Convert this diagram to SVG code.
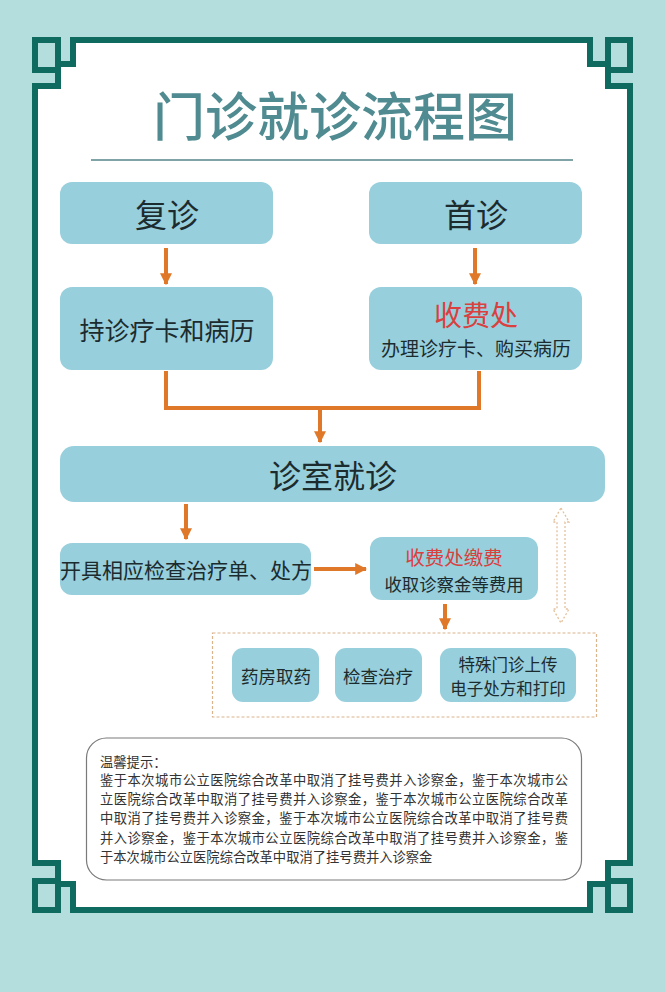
<svg xmlns="http://www.w3.org/2000/svg" width="665" height="992" viewBox="0 0 665 992">
<defs>
<style>
.bg{fill:#b4dedd}
.frame{fill:#ffffff;stroke:#0f6b5f;stroke-width:6;stroke-linejoin:miter}
.sq{fill:#b4dedd;stroke:#0f6b5f;stroke-width:6}
.node{fill:#97cfdc}
.t{font-family:"Noto Sans CJK SC","Noto Sans",sans-serif;fill:#1c2b2e;text-anchor:middle;dominant-baseline:central}
.red{fill:#d9403e}
.con{fill:none;stroke:#e0782a;stroke-width:4}
.note{font-family:"Noto Sans CJK SC","Noto Sans",sans-serif;fill:#333333;font-size:13.3px;dominant-baseline:central}
</style>
<marker id="ah" viewBox="0 0 10 10" refX="9" refY="5" markerWidth="3" markerHeight="3" orient="auto" markerUnits="strokeWidth">
<path d="M0,0 L10,5 L0,10 Z" fill="#e0782a"/>
</marker>
</defs>
<rect class="bg" x="0" y="0" width="665" height="992"/>
<g id="frame">
<path class="frame" d="M35,86 L58,86 L58,64 L73,64 L73,40 L590,40 L590,64 L608,64 L608,86 L630,86 L630,863 L608,863 L608,884 L590,884 L590,910 L73,910 L73,884 L58,884 L58,863 L35,863 Z"/>
<rect class="sq" x="35" y="40" width="23" height="30"/>
<rect class="sq" x="608" y="40" width="22" height="30"/>
<rect class="sq" x="35" y="881" width="23" height="29"/>
<rect class="sq" x="608" y="881" width="22" height="29"/>
</g>
<g id="title">
<text class="t" x="335" y="113" font-size="52" font-weight="500" style="fill:#4f8b90">门诊就诊流程图</text>
<line x1="91" y1="160" x2="573" y2="160" stroke="#7fa3a6" stroke-width="2"/>
</g>
<g id="connectors">
<line class="con" x1="166" y1="248" x2="166" y2="284" marker-end="url(#ah)"/>
<line class="con" x1="475" y1="248" x2="475" y2="284" marker-end="url(#ah)"/>
<path class="con" d="M166,371 L166,408 L479,408 L479,371"/>
<line class="con" x1="320" y1="408" x2="320" y2="442" marker-end="url(#ah)"/>
<line class="con" x1="186" y1="504" x2="186" y2="539" marker-end="url(#ah)"/>
<line class="con" x1="314" y1="569" x2="366" y2="569" marker-end="url(#ah)"/>
<line class="con" x1="445" y1="604" x2="445" y2="629" marker-end="url(#ah)"/>
<path d="M561,508 L569,522 L565,522 L565,609 L569,609 L561,623 L553,609 L557,609 L557,522 L553,522 Z" fill="none" stroke="#e3c09c" stroke-width="1.3" stroke-dasharray="2,2"/>
</g>
<g id="n-fuzhen">
<rect class="node" x="60" y="182" width="213" height="62" rx="12"/>
<text class="t" x="167" y="213" font-size="32">复诊</text>
</g>
<g id="n-shouzhen">
<rect class="node" x="369" y="182" width="213" height="62" rx="12"/>
<text class="t" x="476" y="213" font-size="32">首诊</text>
</g>
<g id="n-card">
<rect class="node" x="60" y="287" width="213" height="83" rx="12"/>
<text class="t" x="167" y="329" font-size="25">持诊疗卡和病历</text>
</g>
<g id="n-cashier">
<rect class="node" x="369" y="287" width="213" height="83" rx="12"/>
<text class="t red" x="476" y="314" font-size="28">收费处</text>
<text class="t" x="476" y="347" font-size="19">办理诊疗卡、购买病历</text>
</g>
<g id="n-clinic">
<rect class="node" x="60" y="446" width="545" height="56" rx="14"/>
<text class="t" x="333" y="474" font-size="32">诊室就诊</text>
</g>
<g id="n-prescribe">
<rect class="node" x="60" y="543" width="251" height="52" rx="12"/>
<text class="t" x="186" y="569" font-size="21">开具相应检查治疗单、处方</text>
</g>
<g id="n-pay">
<rect class="node" x="370" y="537" width="168" height="63" rx="12"/>
<text class="t red" x="454" y="556" font-size="19.5">收费处缴费</text>
<text class="t" x="454" y="583" font-size="17.4">收取诊察金等费用</text>
</g>
<g id="n-group">
<rect x="212.5" y="633" width="384" height="84" fill="none" stroke="#d9b48c" stroke-width="1.2" stroke-dasharray="3,2"/>
</g>
<g id="n-pharmacy">
<rect class="node" x="232" y="648" width="87" height="54" rx="11"/>
<text class="t" x="276" y="675" font-size="17.5">药房取药</text>
</g>
<g id="n-exam">
<rect class="node" x="335" y="648" width="87" height="54" rx="11"/>
<text class="t" x="378" y="675" font-size="17.5">检查治疗</text>
</g>
<g id="n-special">
<rect class="node" x="440" y="648" width="136" height="54" rx="11"/>
<text class="t" x="508" y="664" font-size="16.5">特殊门诊上传</text>
<text class="t" x="508" y="688" font-size="16.5">电子处方和打印</text>
</g>
<g id="n-note">
<rect x="86.5" y="738" width="495" height="142" rx="20" fill="#ffffff" stroke="#7a7a7a" stroke-width="1.2"/>
<text class="note" x="100" y="761">温馨提示：</text>
<text class="note" x="100" y="779" textLength="468" lengthAdjust="spacing">鉴于本次城市公立医院综合改革中取消了挂号费并入诊察金，鉴于本次城市公</text>
<text class="note" x="100" y="798.5" textLength="468" lengthAdjust="spacing">立医院综合改革中取消了挂号费并入诊察金，鉴于本次城市公立医院综合改革</text>
<text class="note" x="100" y="817.5" textLength="468" lengthAdjust="spacing">中取消了挂号费并入诊察金，鉴于本次城市公立医院综合改革中取消了挂号费</text>
<text class="note" x="100" y="837" textLength="468" lengthAdjust="spacing">并入诊察金，鉴于本次城市公立医院综合改革中取消了挂号费并入诊察金，鉴</text>
<text class="note" x="100" y="856">于本次城市公立医院综合改革中取消了挂号费并入诊察金</text>
</g>
</svg>
